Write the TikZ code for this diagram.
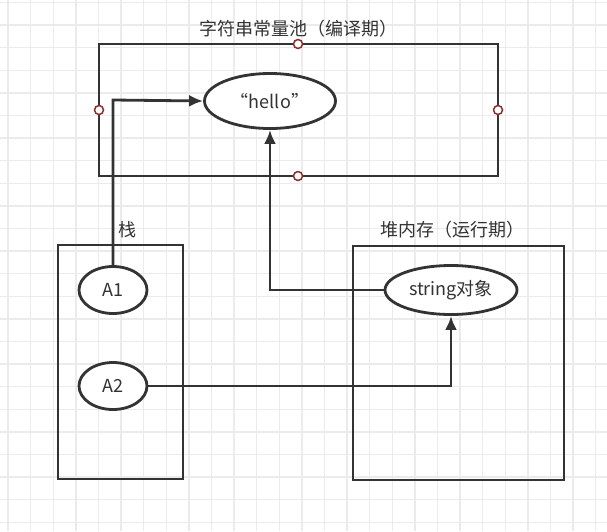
\documentclass[tikz,border=0pt]{standalone}
\usepackage{fontspec}
\usepackage{tikz}
\usetikzlibrary{shapes.geometric,arrows.meta}
\setmainfont{Noto Sans CJK SC}
\definecolor{dkgray}{HTML}{333333}
\definecolor{gridgray}{HTML}{EBEBEB}
\definecolor{dkred}{HTML}{8B2E2E}

\tikzset{
  area/.style={draw=dkgray, line width=2.8pt},
  slot/.style={ellipse, draw=dkgray, line width=2.8pt, fill=white, inner sep=0pt},
  pin/.style={circle, draw=dkred, line width=1.5pt, fill=white, minimum size=9pt, inner sep=0pt},
  link/.style={draw=dkgray, line width=2.8pt},
}

\begin{document}
\begin{tikzpicture}[x=1pt, y=-1pt, font=\fontsize{18}{21}\selectfont, text=dkgray]

    \useasboundingbox (0,0) rectangle (607,531);
    \fill[white] (0,0) rectangle (607,531);

    % background grid
    \foreach \i in {0,...,26}
      \draw[gridgray, line width=1.4pt] (8+22.6*\i, 0) -- (8+22.6*\i, 531);
    \foreach \j in {0,...,23}
      \draw[gridgray, line width=1.4pt] (0, 2.5+22.6*\j) -- (607, 2.5+22.6*\j);

    % string pool
    \draw[area] (99,44) rectangle (498,176);
    \node[] (poolLabel) at (298,29) {字符串常量池（编译期）};
    \node[slot, minimum width=131pt, minimum height=55pt] (hello) at (270,101) {“hello”};

    % stack
    \draw[area] (58,245) rectangle (183,479);
    \node[] (stackLabel) at (127,230) {栈};
    \node[slot, minimum width=68pt, minimum height=47pt] (A1) at (113,290) {A1};
    \node[slot, minimum width=68pt, minimum height=47pt] (A2) at (113,386) {A2};

    % heap
    \draw[area] (353,246) rectangle (564,480);
    \node[] (heapLabel) at (452,230) {堆内存（运行期）};
    \node[slot, minimum width=132pt, minimum height=49pt] (obj) at (451,290) {string对象};

    \coordinate (bend1) at (113,100);
    \coordinate (bend2) at (270,290);
    \coordinate (bend3) at (451,386);

    \draw[link, -{Latex[length=14pt,width=12pt]}]
      (A1.north) -- (bend1) -- (hello.west);
    \draw[link, -{Latex[length=14pt,width=12pt]}]
      (obj.west) -- (bend2) -- (hello.south);
    \draw[link, -{Latex[length=14pt,width=12pt]}]
      (A2.east) -- (bend3) -- (obj.south);

    % connection points of the pool box
    \node[pin] (pinN) at (298,44) {};
    \node[pin] (pinS) at (298,176) {};
    \node[pin] (pinW) at (99,110) {};
    \node[pin] (pinE) at (498,110) {};
  \end{tikzpicture}
\end{document}
